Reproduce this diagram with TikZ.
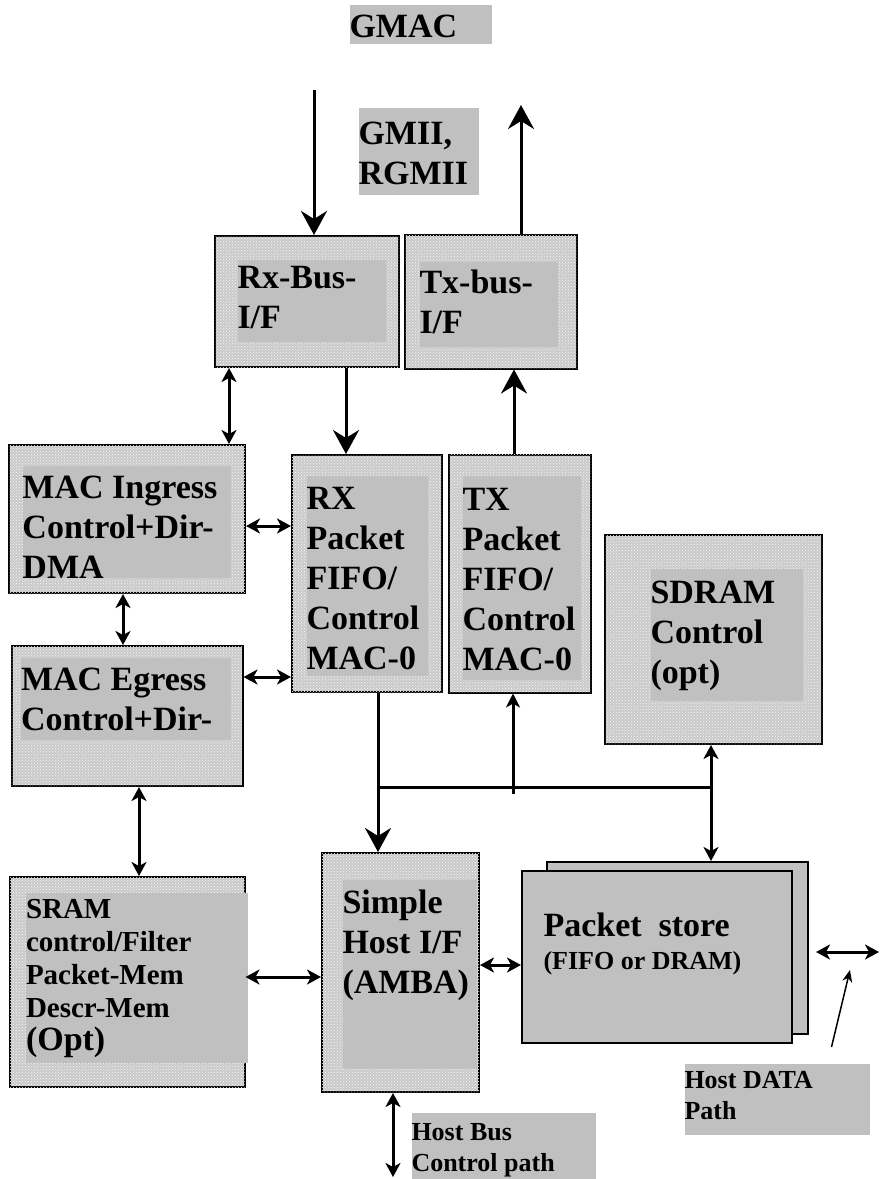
\documentclass[tikz,border=0pt]{standalone}
\usepackage{fontspec}
\setmainfont{Liberation Serif}
\usetikzlibrary{arrows.meta,positioning,patterns}

\definecolor{stipple}{HTML}{CACACA}
\definecolor{innergray}{HTML}{C0C0C0}

\newcommand{\boxfont}{\fontsize{34}{40}\selectfont\bfseries}
\newcommand{\sramfont}{\fontsize{29}{33}\selectfont\bfseries}
\newcommand{\notefont}{\fontsize{26}{31}\selectfont\bfseries}
% gray text area: width, height, top gap, text
\newcommand{\panetext}[4]{\parbox[t][#2pt][t]{#1pt}{\raggedright\vspace*{#3pt}#4}}

\begin{document}
\begin{tikzpicture}[x=1pt, y=-1pt, line width=3pt,
  block/.style = {draw, line width=2pt, fill=stipple, inner sep=0pt,
                  postaction={pattern=crosshatch dots, pattern color=white!85!stipple}},
  pane/.style  = {fill=innergray, anchor=north west, inner sep=0pt, font=\boxfont},
  note/.style  = {fill=innergray, anchor=north west, inner sep=0pt, font=\notefont},
  store/.style = {draw, line width=2pt, fill=innergray, inner sep=0pt},
  big/.style   = {-{Stealth[length=24pt, width=26pt, inset=8pt]}},
  small/.style = {-{Stealth[length=14pt, width=14pt, inset=4pt]}},
  dbl/.style   = {{Stealth[length=14pt, width=15pt, inset=4pt]}-{Stealth[length=14pt, width=15pt, inset=4pt]}},
  ]
    \useasboundingbox (0,0) rectangle (880,1179);

    % titles
    \node[pane] (gmac) at (348,3)   {\panetext{142}{39}{10}{GMAC}};
    \node[pane] (gmii) at (357,106) {\panetext{120}{87}{14}{GMII,\\RGMII}};

    % blocks
    \node[block, minimum width=184pt, minimum height=131pt]                   (rxbus)  at (307,301.5) {};
    \node[block, minimum width=172pt, minimum height=134pt, right=4pt of rxbus] (txbus)  {};
    \node[block, minimum width=236pt, minimum height=148pt]                   (ingress) at (127,519) {};
    \node[block, minimum width=150pt, minimum height=237pt]                   (rxpkt)  at (367,573.5) {};
    \node[block, minimum width=142pt, minimum height=238pt, right=5pt of rxpkt] (txpkt)  {};
    \node[block, minimum width=231pt, minimum height=140pt, below=51pt of ingress] (egress) {};
    \node[block, minimum width=217pt, minimum height=209pt]                   (sdram)  at (713.5,639.5) {};
    \node[block, minimum width=235pt, minimum height=210pt, below=89pt of egress] (sram) {};
    \node[block, minimum width=157pt, minimum height=239pt]                   (host)   at (400.5,972.5) {};
    \node[store, minimum width=261pt, minimum height=172pt]                   (pback)  at (677.5,948) {};
    \node[store, minimum width=270pt, minimum height=172pt]                   (pfront) at (657,957) {};

    % block texts
    \node[pane] (rxbustxt)  at ([shift={(22pt,-23pt)}]rxbus.north west)   {\panetext{148}{82}{7}{Rx-Bus-\\I/F}};
    \node[pane] (txbustxt)  at ([shift={(14pt,-27pt)}]txbus.north west)   {\panetext{138}{85}{8}{Tx-bus-\\I/F}};
    \node[pane] (ingresstxt) at ([shift={(13pt,-20pt)}]ingress.north west) {\panetext{208}{112}{10}{MAC Ingress\\Control+Dir-\\DMA}};
    \node[pane] (rxpkttxt)  at ([shift={(14pt,-20pt)}]rxpkt.north west)   {\panetext{121}{200}{12}{RX\\Packet\\FIFO/\\Control\\MAC-0}};
    \node[pane] (txpkttxt)  at ([shift={(13pt,-21pt)}]txpkt.north west)   {\panetext{118}{204}{12}{TX\\Packet\\FIFO/\\Control\\MAC-0}};
    \node[pane] (egresstxt) at ([shift={(9pt,-11pt)}]egress.north west)   {\panetext{210}{82}{10}{MAC Egress\\Control+Dir-}};
    \node[pane] (sdramtxt)  at ([shift={(45pt,-33pt)}]sdram.north west)   {\panetext{152}{132}{12}{SDRAM\\Control\\(opt)}};
    \node[pane, font=\sramfont] (sramtxt) at ([shift={(16pt,-15pt)}]sram.north west)
        {\panetext{222}{170}{7}{SRAM\\control/Filter\\Packet-Mem\\Descr-Mem\\{\fontsize{34}{33}\selectfont (Opt)}}};
    \node[pane] (hosttxt)   at ([shift={(20pt,-26pt)}]host.north west)    {\panetext{134}{189}{10}{Simple\\Host I/F\\(AMBA)}};
    \node[anchor=base west, inner sep=0pt, font=\bfseries] (pstxt) at ([shift={(21pt,-66pt)}]pfront.north west)
        {\parbox[t]{250pt}{\fontsize{34}{40}\selectfont Packet\ \ store\par\fontsize{26}{33}\selectfont (FIFO or DRAM)}};

    % notes
    \node[note] (hostbus)  at (410,1111) {\panetext{184}{68}{11}{Host Bus\\Control path}};
    \node[note] (hostdata) at (683,1062) {\panetext{185}{71}{8}{Host DATA\\Path}};

    % free ends
    \coordinate (rxin)   at (314,90);
    \coordinate (txout)  at (521,105);
    \coordinate (busL)   at (378,787);
    \coordinate (busR)   at (711,787);
    \coordinate (txfoot) at (513,794);
    \coordinate (hdout)  at (879,952);
    \coordinate (hdtip)  at (850,970);
    \coordinate (hbout)  at (393,1177);

    \draw[big] (rxin) -- (rxin |- rxbus.north);
    \draw[big] (txout |- txbus.north) -- (txout);
    \draw[big] ([xshift=39pt]rxbus.south) -- ([xshift=39pt]rxbus.south |- rxpkt.north);
    \draw[big] ([xshift=-6pt]txpkt.north) -- ([xshift=-6pt]txpkt.north |- txbus.south);
    \draw[dbl] ([xshift=102pt]ingress.north) -- ([xshift=102pt]ingress.north |- rxbus.south);
    \draw[dbl] ([yshift=-7pt]ingress.east) -- ([yshift=-7pt]ingress.east -| rxpkt.west);
    \draw[dbl] ([xshift=-4pt]ingress.south) -- ([xshift=-4pt]ingress.south |- egress.north);
    \draw[dbl] ([yshift=39pt]egress.east) -- ([yshift=39pt]egress.east -| rxpkt.west);
    \draw[dbl] ([xshift=12pt]egress.south) -- ([xshift=12pt]egress.south |- sram.north);
    \draw[big] (rxpkt.south -| busL) -- (host.north -| busL);
    \draw (busL) -- (busR);
    \draw[small] (txfoot) -- (txfoot |- txpkt.south);
    \draw[dbl] (sdram.south -| busR) -- (pback.north -| busR);
    \draw[dbl] ([yshift=5pt]sram.east) -- ([yshift=5pt]sram.east -| host.west);
    \draw[dbl] ([yshift=7.5pt]host.east) -- ([yshift=7.5pt]host.east -| pfront.west);
    \draw[dbl] ([xshift=-7.5pt]host.south) -- (hbout);
    \draw[dbl] ([shift={(7pt,-4pt)}]pback.east) -- (hdout);
    \draw[line width=1.5pt, -{Stealth[length=12pt, width=10pt]}] ([shift={(54.5pt,15pt)}]hostdata.north) -- (hdtip);
\end{tikzpicture}
\end{document}
